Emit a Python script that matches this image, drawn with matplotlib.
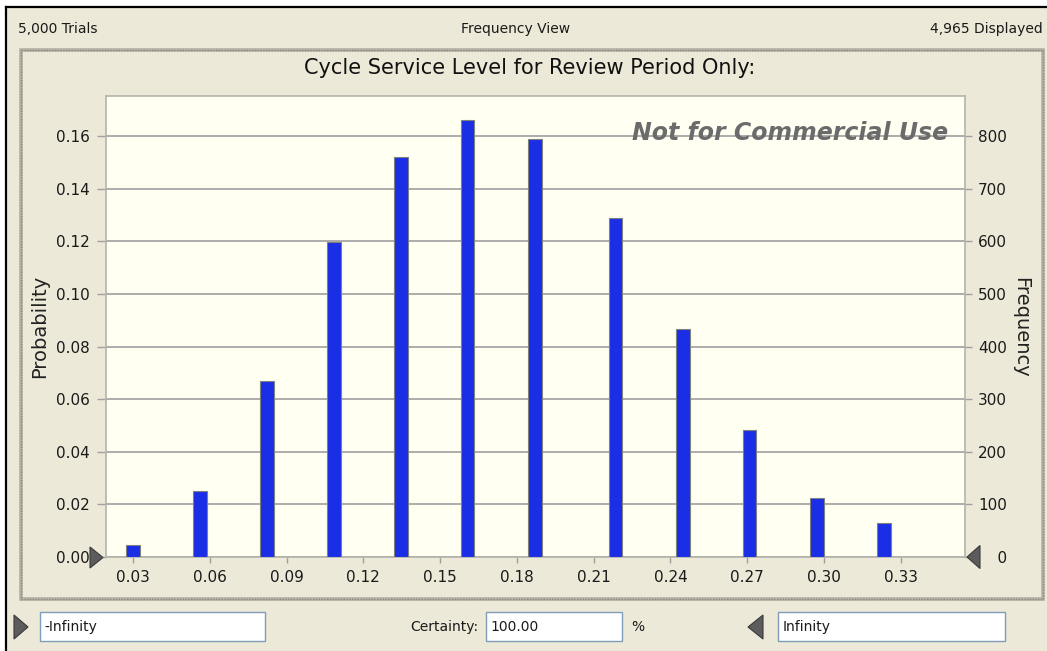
import matplotlib
matplotlib.use('Agg')
import matplotlib.pyplot as plt
from matplotlib.patches import Rectangle, Polygon
import numpy as np

# Crystal Ball style frequency view of the simulated cycle service level
total_trials = 5000
displayed_trials = 4965
chart_title = 'Cycle Service Level for Review Period Only:'

# histogram bins (centre of each bar) and trial counts
bin_centers = [0.0299, 0.0562, 0.0823, 0.1085, 0.1347, 0.1608,
               0.1870, 0.2186, 0.2450, 0.2710, 0.2972, 0.3234]
frequency = [23, 126, 335, 599, 761, 831, 795, 645, 433, 241, 112, 64]

x_ticks = [0.03, 0.06, 0.09, 0.12, 0.15, 0.18, 0.21, 0.24, 0.27, 0.30, 0.33]
prob_ticks = [0.00, 0.02, 0.04, 0.06, 0.08, 0.10, 0.12, 0.14, 0.16]
freq_ticks = [0, 100, 200, 300, 400, 500, 600, 700, 800]

probability = np.array(frequency) / total_trials

W, H = 1047, 651
PANEL = '#ece9d8'
PLOT_BG = '#fffff2'
TEXT = '#1a1a1a'
TICK = '#a0a0a0'


def px_box(x0, y0, x1, y1):
    # convert a pixel rectangle (top-left origin) to figure fractions
    return [x0 / W, 1 - y1 / H, (x1 - x0) / W, (y1 - y0) / H]


def triangle(axis, x_base, x_tip, y_mid, half):
    axis.add_patch(Polygon([(x_base, y_mid - half), (x_base, y_mid + half), (x_tip, y_mid)],
                           closed=True, facecolor='#5c5c5c', edgecolor='#3a3a3a', lw=0.8))


fig = plt.figure(figsize=(W / 100, H / 100), dpi=100)
fig.patch.set_facecolor('white')

# background window (pixel coordinates, y pointing down)
bg = fig.add_axes([0, 0, 1, 1], zorder=0)
bg.set_xlim(0, W)
bg.set_ylim(H, 0)
bg.axis('off')
bg.add_patch(Rectangle((6, 7), W - 6, H - 7, facecolor=PANEL, edgecolor='none'))
bg.plot([6, W], [7, 7], color='black', lw=1.6)
bg.plot([6, 6], [7, H], color='black', lw=1.6)

# header line
bg.text(18, 29, '5,000 Trials', ha='left', va='center', fontsize=10, color=TEXT)
bg.text(516, 29, 'Frequency View', ha='center', va='center', fontsize=10, color=TEXT)
bg.text(1043, 29, f'{displayed_trials:,} Displayed', ha='right', va='center', fontsize=10, color=TEXT)

# grooved frame round the chart
bg.add_patch(Rectangle((21, 50), 1022, 549, facecolor='none', edgecolor='#b4b1a4', lw=2.6))
bg.add_patch(Rectangle((21, 50), 1022, 549, facecolor='none', edgecolor='#8c8a80',
                       lw=1.0, linestyle=(0, (1, 1))))

bg.text(530, 68, chart_title, ha='center', va='center', fontsize=15, color='#111111')
bg.text(40, 326, 'Probability', rotation=90, ha='center', va='center', fontsize=14, color='#222222')
bg.text(1021, 327, 'Frequency', rotation=270, ha='center', va='center', fontsize=14, color='#222222')

# bottom controls
for x0, x1 in [(40, 265), (486, 622), (778, 1005)]:
    bg.add_patch(Rectangle((x0, 612), x1 - x0, 29, facecolor='white', edgecolor='#7f9db9', lw=1.0))
bg.text(44, 627, '-Infinity', ha='left', va='center', fontsize=10, color=TEXT)
bg.text(478, 627, 'Certainty:', ha='right', va='center', fontsize=10, color=TEXT)
bg.text(490, 627, '100.00', ha='left', va='center', fontsize=10, color=TEXT)
bg.text(638, 627, '%', ha='center', va='center', fontsize=10, color=TEXT)
bg.text(783, 627, 'Infinity', ha='left', va='center', fontsize=10, color=TEXT)
triangle(bg, 14, 28, 627, 12)
triangle(bg, 763, 748, 627, 12)

# the chart itself
ax = fig.add_axes(px_box(106, 96, 965, 557), zorder=2)
ax.set_facecolor(PLOT_BG)
ax.bar(bin_centers, probability, width=0.0053, color='#1a2ee6',
       edgecolor='#808080', lw=0.8, zorder=3)
ax.set_xlim(0.01945, 0.35513)
ax.set_ylim(0, 0.1753)
ax.set_xticks(x_ticks, [f'{v:.2f}' for v in x_ticks])
ax.set_yticks(prob_ticks, [f'{v:.2f}' for v in prob_ticks])
ax.yaxis.grid(True, color='#a6a6a6', lw=1.3)
ax.set_axisbelow(True)
ax.tick_params(axis='y', length=6.5, width=1, color=TICK, pad=5,
               labelsize=11, labelcolor=TEXT)
ax.tick_params(axis='x', length=4.5, width=1, color=TICK, pad=5,
               labelsize=11, labelcolor=TEXT)
for sp in ax.spines.values():
    sp.set_color('#b4b4ac')
    sp.set_linewidth(1.2)

# frequency axis on the right, same scale as probability
ax2 = ax.twinx()
ax2.set_zorder(3)
ax2.patch.set_visible(False)
ax2.set_ylim(0, 0.1753 * total_trials)
ax2.set_yticks(freq_ticks, ['    0'] + [str(v) for v in freq_ticks[1:]])
ax2.tick_params(axis='y', length=5, width=1, color=TICK, pad=4.5,
                labelsize=11, labelcolor=TEXT)
for sp in ax2.spines.values():
    sp.set_visible(False)

# overlay: watermark and the certainty grabbers
fg = fig.add_axes([0, 0, 1, 1], zorder=5)
fg.set_xlim(0, W)
fg.set_ylim(H, 0)
fg.axis('off')
fg.patch.set_visible(False)
fg.text(948, 133, 'Not for Commercial Use', ha='right', va='center', fontsize=17,
        fontweight='bold', fontstyle='italic', color='#6b6b6b')
triangle(fg, 90, 103, 557.5, 10.5)
triangle(fg, 980, 967, 557, 11.5)

fig.savefig('out.png', dpi=100)
